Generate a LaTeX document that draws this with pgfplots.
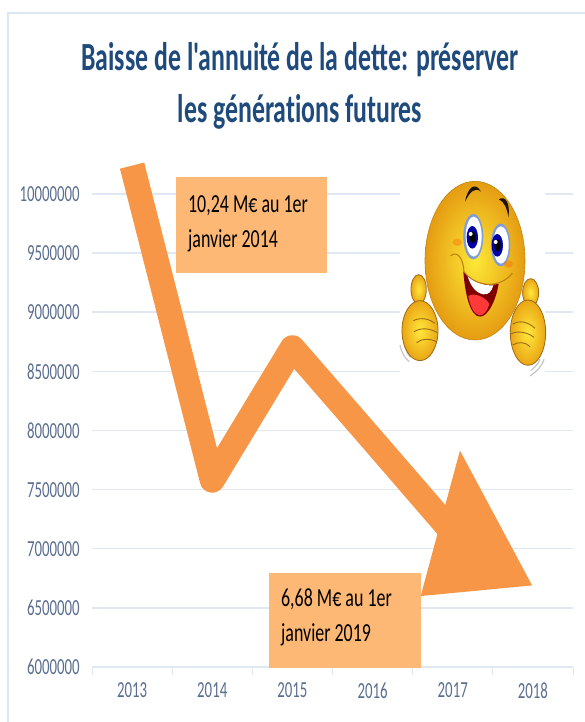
\documentclass[border=0pt]{standalone}
\usepackage{fontspec}
\usepackage{pgfplots}
\pgfplotsset{compat=1.18}
\setmainfont[Ligatures={TeXOff,NoCommon,NoDiscretionary}]{Carlito}
\definecolor{gridc}{HTML}{E0E9F3}
\definecolor{framec}{HTML}{DAE6F2}
\definecolor{tickc}{HTML}{5A6E90}
\definecolor{titlec}{HTML}{1F4A7C}
\definecolor{orangec}{HTML}{F79646}
\definecolor{boxc}{HTML}{FDB876}
\definecolor{faceA}{HTML}{FDE836}
\definecolor{faceB}{HTML}{E59C12}
\definecolor{handA}{HTML}{FFE83C}
\definecolor{handB}{HTML}{EAA614}
\definecolor{edgec}{HTML}{9A6A14}
\begin{document}
\begin{tikzpicture}
\path[use as bounding box] (0pt,0pt) rectangle (585pt,722pt);
\begin{axis}[
    at={(92pt,55pt)}, anchor=south west,
    scale only axis,
    width=481pt, height=473pt,
    xmin=-0.5, xmax=5.5,
    ymin=6000000, ymax=10000000,
    clip=false,
    axis lines*=left,
    x axis line style={-,draw=gridc,line width=1.5pt},
    y axis line style={-,draw=none},
    xtick={0,1,2,3,4,5},
    xticklabels={2013,2014,2015,2016,2017,2018},
    minor xtick={-0.5,0.5,1.5,2.5,3.5,4.5,5.5},
    ytick={6000000,6500000,7000000,7500000,8000000,8500000,9000000,9500000,10000000},
    scaled y ticks=false,
    /pgf/number format/assume math mode=true,
    yticklabel style={/pgf/number format/fixed,/pgf/number format/1000 sep={}},
    tick label style={font=\fontsize{23}{23}\selectfont,text=tickc,xscale=.645},
    major x tick style={draw=none},
    minor x tick style={draw=gridc,line width=1pt},
    tick align=outside,
    minor tick length=8pt,
    major tick length=0pt,
    ytick style={draw=none},
    ymajorgrids,
    y grid style={draw=gridc,line width=1.5pt},
    xticklabel shift=12pt,
    yticklabel shift=10pt,
]
% thick line, then the arrow head
\addplot[orangec,line width=25pt,line join=round] coordinates {
    (0,10240000) (1,7580000) (2,8700000) (3,7920000) (3.95,7175000)};
\addplot[fill=orangec,draw=none] coordinates {
    (4.09,7830000) (4.99,6690000) (3.60,6600000) (4.09,7830000)};
\end{axis}

% frame
\draw[framec,line width=1.5pt] (8pt,0pt) -- (8pt,709pt) -- (585pt,709pt);

% title
\node[titlec,font=\fontsize{40}{40}\selectfont\bfseries,xscale=.645] at (300pt,662pt) {Baisse de l'annuité de la dette: préserver};
\node[titlec,font=\fontsize{40}{40}\selectfont\bfseries,xscale=.645] at (300pt,610pt) {les générations futures};

% label boxes
\fill[boxc] (176pt,449pt) rectangle (327pt,545pt);
\node[anchor=base west,inner sep=0pt,font=\fontsize{26}{26}\selectfont,xscale=.69] at (188pt,509pt) {10,24 M€ au 1er};
\node[anchor=base west,inner sep=0pt,font=\fontsize{26}{26}\selectfont,xscale=.69] at (188pt,474pt) {janvier 2014};
\fill[boxc] (269pt,54pt) rectangle (421pt,149pt);
\node[anchor=base west,inner sep=0pt,font=\fontsize{26}{26}\selectfont,xscale=.69] at (281pt,115pt) {6,68 M€ au 1er};
\node[anchor=base west,inner sep=0pt,font=\fontsize{26}{26}\selectfont,xscale=.69] at (281pt,80pt) {janvier 2019};

% smiley on its white square
\fill[white] (400pt,342pt) rectangle (545pt,547pt);
\begin{scope}[shift={(380pt,562pt)},x=.3333pt,y=-.3333pt]
  % motion marks
  \draw[gray!45,line width=1.2pt] (60,555) .. controls (65,580) and (75,595) .. (88,605);
  \draw[gray!45,line width=1.2pt] (72,550) .. controls (76,570) and (82,582) .. (92,592);
  \draw[gray!45,line width=1.2pt] (492,598) .. controls (485,620) and (470,635) .. (450,648);
  \draw[gray!45,line width=1.2pt] (480,598) .. controls (475,612) and (465,622) .. (452,632);
  % face
  \shade[inner color=faceA,outer color=faceB,draw=faceB!85!black,line width=.6pt]
    (285,302) ellipse [x radius=150,y radius=238];
  % brows
  \fill[black!85!brown] (255,125) .. controls (262,85) and (285,62) .. (303,95)
     .. controls (285,80) and (270,95) .. (255,125);
  \fill[black!85!brown] (357,118) .. controls (375,105) and (392,130) .. (385,172)
     .. controls (382,145) and (372,125) .. (357,118);
  % eyes
  \fill[white!70!cyan!70!blue] (280,230) ellipse [x radius=30,y radius=68];
  \fill[white] (281,230) ellipse [x radius=24,y radius=60];
  \fill[white!70!cyan!70!blue] (362,255) ellipse [x radius=29,y radius=64];
  \fill[white] (363,255) ellipse [x radius=23,y radius=56];
  \fill[blue!65!black] (277,232) ellipse [x radius=17,y radius=34];
  \fill[blue!65!black] (352,256) ellipse [x radius=17,y radius=34];
  \fill[black] (278,232) ellipse [x radius=9,y radius=18];
  \fill[black] (353,256) ellipse [x radius=9,y radius=18];
  \fill[white] (272,222) circle [radius=6];
  \fill[white] (347,246) circle [radius=6];
  % cheeks
  \fill[orange!70!red,opacity=.35] (232,247) ellipse [x radius=14,y radius=11];
  \fill[orange!70!red,opacity=.35] (385,312) ellipse [x radius=14,y radius=11];
  % mouth
  \fill[red!50!black] (250,335) .. controls (285,370) and (320,378) .. (356,372)
     .. controls (348,420) and (325,470) .. (300,470)
     .. controls (270,470) and (255,400) .. (250,335);
  \fill[white] (262,345) .. controls (290,370) and (320,378) .. (340,376)
     .. controls (335,395) and (325,405) .. (310,403)
     .. controls (285,398) and (270,375) .. (262,345);
  \fill[red!70!pink] (265,408) .. controls (285,395) and (320,415) .. (328,432)
     .. controls (320,460) and (305,468) .. (298,466)
     .. controls (280,462) and (270,435) .. (265,408);
  % smile crease
  \draw[faceB!80!black,line width=1pt] (212,287) .. controls (235,270) and (250,300) .. (252,335)
     .. controls (290,385) and (360,385) .. (397,340);
  % left hand
  \shade[inner color=handA,outer color=handB,draw=edgec,line width=.8pt]
    (116,388) ellipse [x radius=23,y radius=44];
  \shade[inner color=handA,outer color=handB,draw=edgec,line width=.8pt]
    (120,512) ellipse [x radius=54,y radius=90];
  \draw[edgec,line width=.9pt] (100,482) .. controls (125,470) and (150,478) .. (165,490);
  \draw[edgec,line width=.9pt] (102,515) .. controls (125,502) and (150,505) .. (172,518);
  \draw[edgec,line width=.9pt] (110,548) .. controls (125,535) and (150,535) .. (170,545);
  % right hand
  \shade[inner color=handA,outer color=handB,draw=edgec,line width=.8pt]
    (452,398) ellipse [x radius=24,y radius=42];
  \shade[inner color=handA,outer color=handB,draw=edgec,line width=.8pt]
    (444,518) ellipse [x radius=53,y radius=98];
  \draw[edgec,line width=.9pt] (398,492) .. controls (415,482) and (440,482) .. (465,505);
  \draw[edgec,line width=.9pt] (392,522) .. controls (410,512) and (440,515) .. (462,532);
  \draw[edgec,line width=.9pt] (398,555) .. controls (415,545) and (435,545) .. (450,560);
\end{scope}
\end{tikzpicture}
\end{document}
